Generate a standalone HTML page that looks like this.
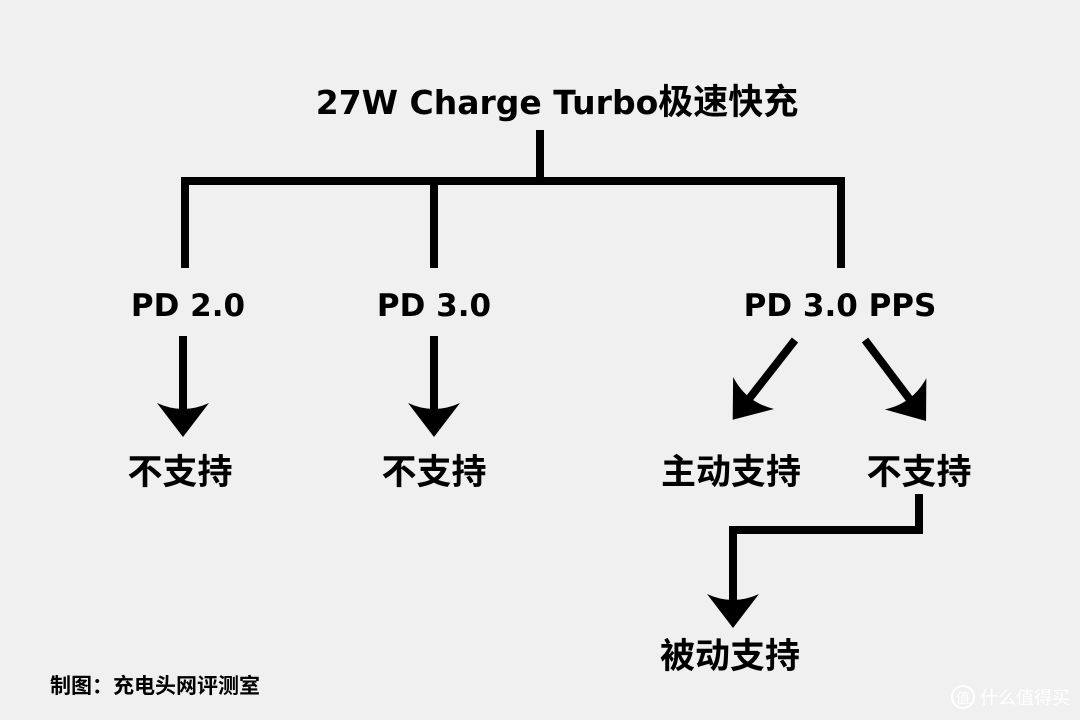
<!DOCTYPE html>
<html><head><meta charset="utf-8"><style>
html,body{margin:0;padding:0;background:#f0f0f0;}
svg{display:block}
text{font-family:"DejaVu Sans","Noto Sans CJK SC",sans-serif;font-weight:bold;fill:#000}
.c{font-family:"Noto Sans CJK SC",sans-serif;font-weight:bold}
</style></head><body>
<svg width="1080" height="720" viewBox="0 0 1080 720">
<defs>
<marker id="ah" viewBox="0 0 34 52" refX="14" refY="26" markerWidth="34" markerHeight="52" markerUnits="userSpaceOnUse" orient="auto">
<path d="M34 26 L0 0 Q12 26 0 52 Z" fill="#000"/>
</marker>
</defs>
<rect width="1080" height="720" fill="#f0f0f0"/>
<text x="557" y="114" font-size="33" text-anchor="middle">27W Charge Turbo<tspan class="c" font-size="35">极速快充</tspan></text>
<g stroke="#000" stroke-width="8" fill="none">
<line x1="540" y1="130" x2="540" y2="181"/>
<polyline points="185,268 185,181 841,181 841,268"/>
<line x1="434" y1="181" x2="434" y2="268"/>
</g>
<text x="188" y="316" font-size="31" text-anchor="middle">PD 2.0</text>
<text x="434" y="316" font-size="31" text-anchor="middle">PD 3.0</text>
<text x="840" y="316" font-size="31" text-anchor="middle">PD 3.0 PPS</text>
<g stroke="#000" stroke-width="8" fill="none">
<line x1="183" y1="336" x2="183" y2="417" marker-end="url(#ah)"/>
<line x1="434" y1="336" x2="434" y2="417" marker-end="url(#ah)"/>
<line x1="795" y1="340" x2="745" y2="404" marker-end="url(#ah)"/>
<line x1="865" y1="340" x2="914" y2="405" marker-end="url(#ah)"/>
<polyline points="919,494 919,530 733,530 733,608" marker-end="url(#ah)"/>
</g>
<text class="c" x="180" y="484" font-size="35" text-anchor="middle">不支持</text>
<text class="c" x="434" y="484" font-size="35" text-anchor="middle">不支持</text>
<text class="c" x="731" y="484" font-size="35" text-anchor="middle">主动支持</text>
<text class="c" x="919" y="484" font-size="35" text-anchor="middle">不支持</text>
<text class="c" x="730" y="668" font-size="35" text-anchor="middle">被动支持</text>
<text class="c" x="50" y="693" font-size="21">制图：充电头网评测室</text>
<circle cx="963" cy="697" r="11" fill="none" stroke="#fff" stroke-width="2"/>
<text x="963" y="703" font-size="14" text-anchor="middle" style="fill:#fff;font-weight:normal">值</text>
<text class="c" x="980" y="704" font-size="18" style="fill:#fff;font-weight:normal">什么值得买</text>
</svg>
</body></html>
